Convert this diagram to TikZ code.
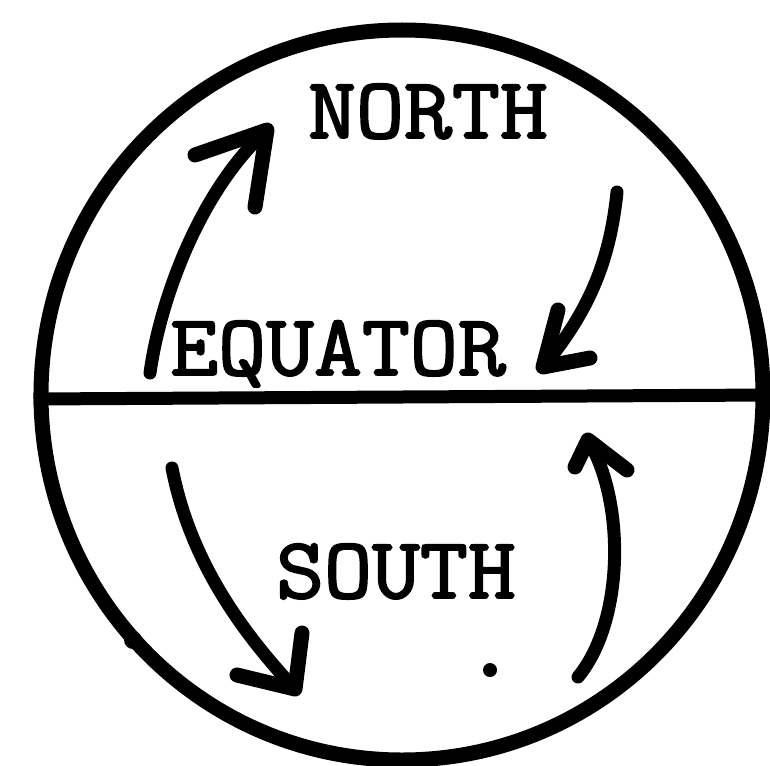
\documentclass[tikz,border=0pt]{standalone}
\usepackage{fontspec}
\usepackage{graphicx}
\usetikzlibrary{shapes.geometric}
\newfontfamily\typewriter{Latin Modern Mono}[FakeBold=2.2]
\tikzset{
  globe/.style={ellipse, draw, line width=15pt, inner sep=0pt, minimum width=722pt, minimum height=730pt},
  equatorline/.style={line width=13pt},
  shaft/.style={line width=13pt, line cap=round},
  barbs/.style={line width=15pt, line cap=round, line join=round},
  label/.style={inner sep=0pt, anchor=base, font=\typewriter\fontsize{87}{87}\selectfont}
}
\begin{document}
\begin{tikzpicture}[x=1pt,y=-1pt]
\useasboundingbox (0,0) rectangle (770,765);
\node[globe] (g) at (402,395) {};
\draw[equatorline] ([yshift=-4pt]g.west) -- (g.east);
\fill (133,640) circle [radius=9pt];

\node[label] (north) at (428,138) {\scalebox{1.07}[1]{NORTH}};
\node[label] (equator) at (338,375) {\scalebox{1.07}[1]{EQUATOR}};
\node[label] (south) at (396,598) {\scalebox{1.07}[1]{SOUTH}};
\fill (490,670) circle [radius=7pt];

% arrow 1: up toward NORTH
\coordinate (a1s) at (150,373);
\coordinate (a1t) at (267,130);
\coordinate (a1l) at (195,155);
\coordinate (a1r) at (255,207);
\draw[shaft] (a1s) .. controls (160,300) and (200,190) .. (a1t);
\draw[barbs] (a1l) -- (a1t) -- (a1r);

% arrow 2: down toward equator
\coordinate (a2s) at (617,192);
\coordinate (a2t) at (543,367);
\coordinate (a2l) at (558,310);
\coordinate (a2r) at (590,358);
\draw[shaft] (a2s) .. controls (610,260) and (590,310) .. (a2t);
\draw[barbs] (a2l) -- (a2t) -- (a2r);

% arrow 3: down toward SOUTH
\coordinate (a3s) at (172,468);
\coordinate (a3t) at (295,689);
\coordinate (a3l) at (302,633);
\coordinate (a3r) at (237,675);
\draw[shaft] (a3s) .. controls (190,560) and (240,630) .. (a3t);
\draw[barbs] (a3l) -- (a3t) -- (a3r);

% arrow 4: up toward equator
\coordinate (a4s) at (578,677);
\coordinate (a4t) at (588,440);
\coordinate (a4l) at (575,467);
\coordinate (a4r) at (627,470);
\draw[shaft] (a4s) .. controls (625,620) and (625,500) .. (a4t);
\draw[barbs] (a4l) -- (a4t) -- (a4r);
\end{tikzpicture}
\end{document}
